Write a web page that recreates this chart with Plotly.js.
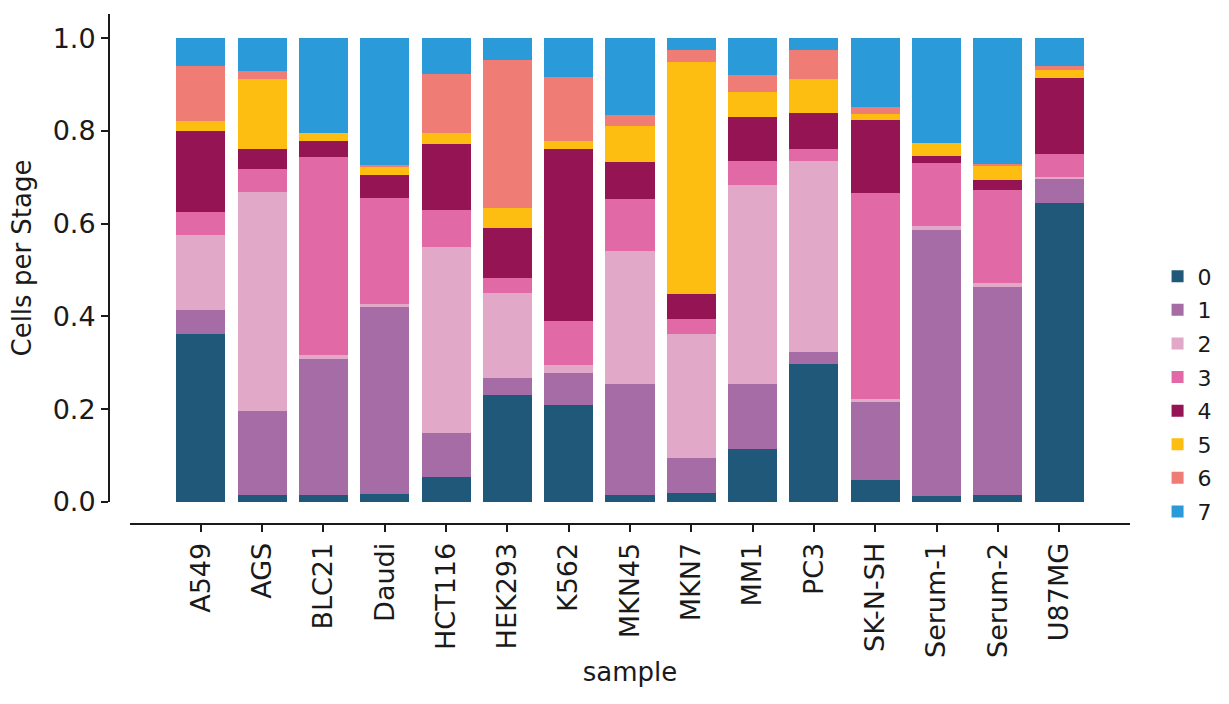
<!DOCTYPE html>
<html>
<head>
<meta charset="utf-8">
<script src="https://cdn.plot.ly/plotly-3.0.1.min.js"></script>
<style>html,body{margin:0;padding:0;background:#fff;}#chart{width:1229px;height:704px;}</style>
</head>
<body>
<div id="chart"></div>
<script>
const samples = ["A549","AGS","BLC21","Daudi","HCT116","HEK293","K562","MKN45","MKN7","MM1","PC3","SK-N-SH","Serum-1","Serum-2","U87MG"];
const stageNames = ["0","1","2","3","4","5","6","7"];
const stageColors = ["#1f5879","#a56ca5","#e1a8c8","#e16aa6","#951454","#fdbd11","#f07c76","#2a9bd8"];
const stage0 = [0.362,0.015,0.015,0.017,0.054,0.231,0.209,0.015,0.019,0.114,0.297,0.047,0.013,0.015,0.644];
const stage1 = [0.052,0.181,0.293,0.403,0.095,0.036,0.069,0.239,0.076,0.140,0.026,0.169,0.573,0.448,0.052];
const stage2 = [0.161,0.472,0.009,0.007,0.401,0.183,0.017,0.287,0.267,0.429,0.412,0.006,0.009,0.009,0.004];
const stage3 = [0.050,0.050,0.427,0.228,0.079,0.033,0.095,0.112,0.032,0.052,0.026,0.444,0.136,0.200,0.050];
const stage4 = [0.175,0.043,0.034,0.050,0.143,0.108,0.371,0.080,0.054,0.095,0.077,0.157,0.015,0.022,0.164];
const stage5 = [0.021,0.151,0.017,0.017,0.023,0.043,0.017,0.077,0.500,0.054,0.074,0.013,0.028,0.030,0.017];
const stage6 = [0.119,0.017,0.000,0.004,0.127,0.319,0.138,0.024,0.026,0.036,0.062,0.015,0.000,0.004,0.009];
const stage7 = [0.060,0.071,0.205,0.274,0.078,0.047,0.084,0.166,0.026,0.080,0.026,0.149,0.226,0.272,0.060];
const yTicks = [0,0.2,0.4,0.6,0.8,1.0];
const yTickText = ["0.0","0.2","0.4","0.6","0.8","1.0"];

const stages = [stage0,stage1,stage2,stage3,stage4,stage5,stage6,stage7];
const font = "DejaVu Sans, Verdana, sans-serif";
const ink = "#1a1a1a";

const traces = stages.map((vals, i) => ({
  type: "bar",
  x: samples,
  y: vals,
  name: stageNames[i],
  legendgroup: "g" + i,
  marker: {color: stageColors[i], line: {width: 0}},
  hoverinfo: "x+y+name"
}));

const layout = {
  width: 1229,
  height: 704,
  margin: {l: 109, r: 99, t: 14, b: 180, pad: 0},
  paper_bgcolor: "#fff",
  plot_bgcolor: "#fff",
  barmode: "stack",
  bargap: 0.2,
  font: {family: font, color: ink, size: 26},
  showlegend: true,
  legend: {
    x: 1.027, xanchor: "left",
    y: 0.255, yanchor: "middle",
    traceorder: "grouped",
    tracegroupgap: 2,
    font: {family: font, size: 22, color: ink},
    bgcolor: "rgba(0,0,0,0)",
    borderwidth: 0
  },
  xaxis: {
    domain: [0.0206, 1],
    anchor: "free",
    position: 0,
    type: "category",
    range: [-1.155, 15.155],
    showline: true, linecolor: ink, linewidth: 2,
    ticks: "outside", ticklen: 7, tickwidth: 2, tickcolor: ink,
    tickangle: -90,
    tickfont: {family: font, size: 27, color: ink},
    showgrid: false, zeroline: false,
    title: {text: "sample", font: {family: font, size: 26, color: ink}, standoff: 5}
  },
  yaxis: {
    domain: [0.0431, 1],
    anchor: "free",
    position: 0,
    range: [0, 1.052],
    showline: true, linecolor: ink, linewidth: 2,
    ticks: "outside", ticklen: 7, tickwidth: 2, tickcolor: ink,
    tickvals: yTicks, ticktext: yTickText,
    tickfont: {family: font, size: 27, color: ink},
    showgrid: false, zeroline: false,
    title: {text: "Cells per Stage", font: {family: font, size: 26, color: ink}, standoff: 13}
  }
};

Plotly.newPlot("chart", traces, layout, {displayModeBar: false, staticPlot: true});
</script>
</body>
</html>
